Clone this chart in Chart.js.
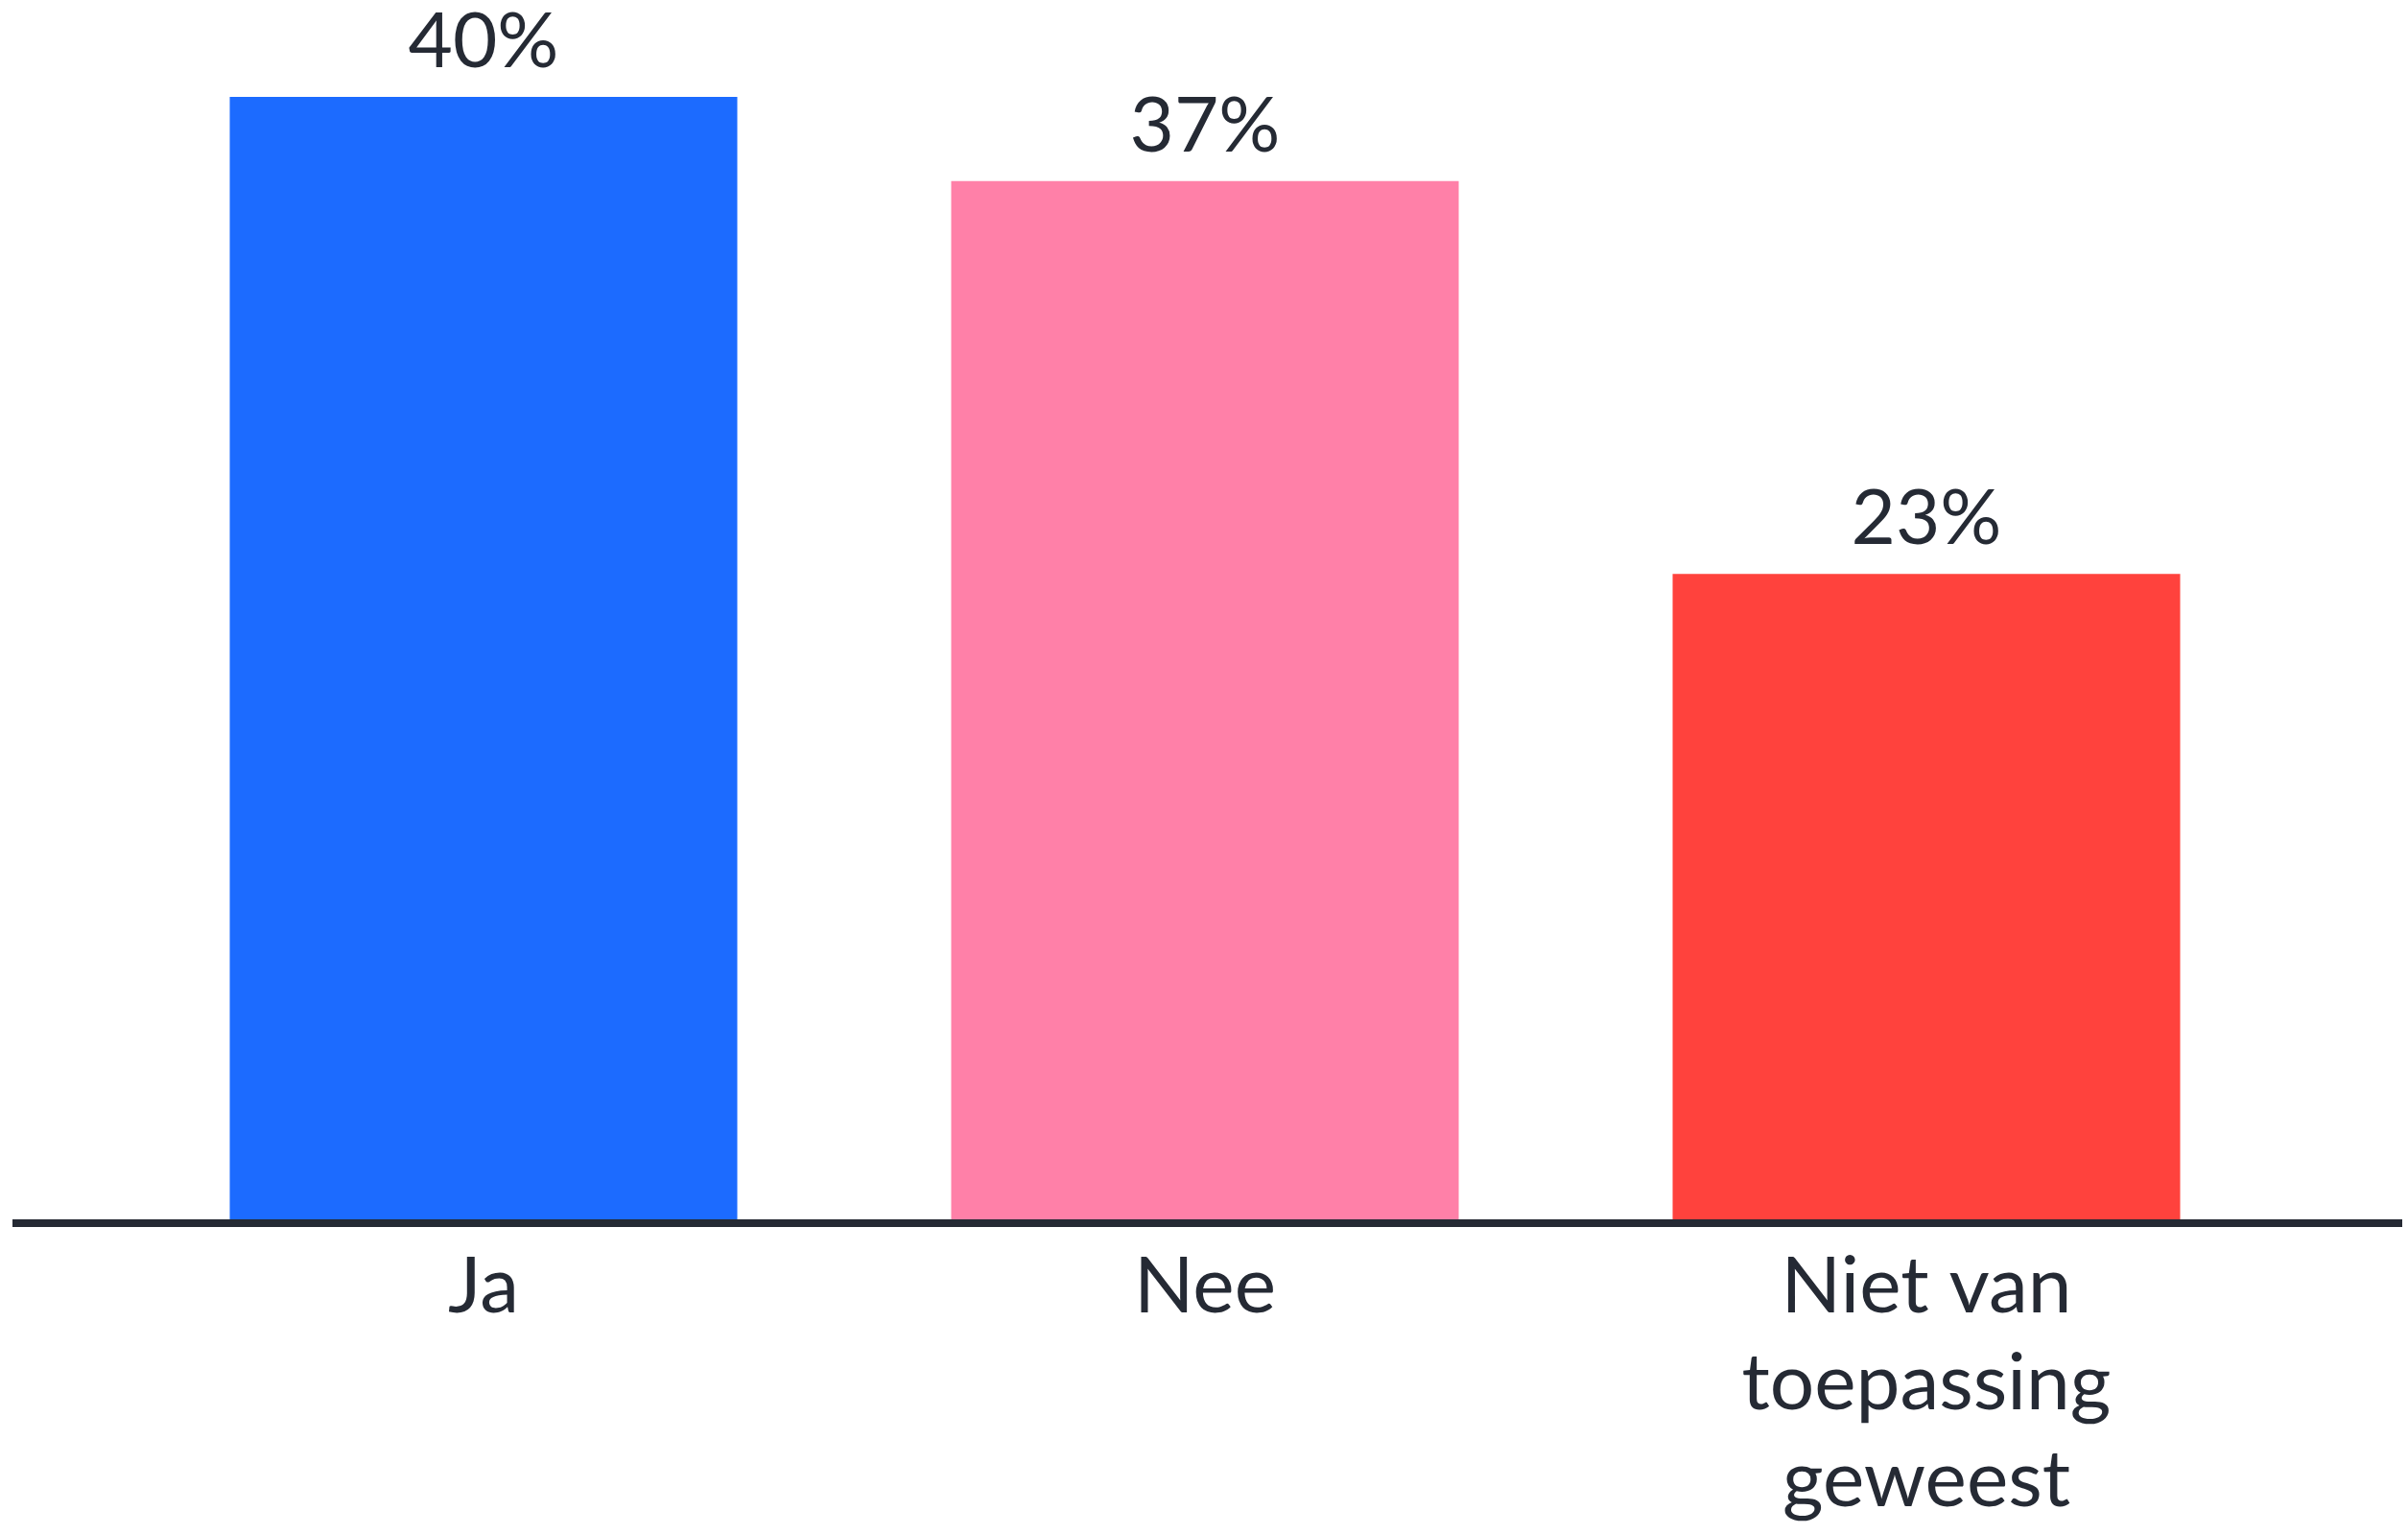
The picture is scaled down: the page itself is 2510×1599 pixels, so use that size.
<!DOCTYPE html>
<html>
<head>
<meta charset="utf-8">
<script src="https://cdn.jsdelivr.net/npm/chart.js@4/dist/chart.umd.min.js"></script>
<style>
html,body{margin:0;padding:0;background:#ffffff;}
canvas{display:block;}
</style>
</head>
<body>
<canvas id="c" width="2510" height="1599"></canvas>
<script>
const categories = [["Ja"], ["Nee"], ["Niet van", "toepassing", "geweest"]];
const values = [40, 37, 23];
const valueLabels = ["40%", "37%", "23%"];
const barColors = ["#1C6BFF", "#FF80A8", "#FF423D"];

const TEXT = "#252A34";
const FONT = "Lato, 'Noto Sans', sans-serif";

const overlay = {
  id: "overlay",
  afterDatasetsDraw(chart) {
    const ctx = chart.ctx;
    const y = chart.scales.y;
    const meta = chart.getDatasetMeta(0);
    ctx.save();
    // baseline
    const base = y.getPixelForValue(0) + 4;
    ctx.strokeStyle = TEXT;
    ctx.lineWidth = 8;
    ctx.beginPath();
    ctx.moveTo(13, base);
    ctx.lineTo(2504, base);
    ctx.stroke();
    // value labels
    ctx.fillStyle = TEXT;
    ctx.font = "400 80px " + FONT;
    ctx.textAlign = "center";
    ctx.textBaseline = "alphabetic";
    meta.data.forEach((bar, i) => {
      ctx.fillText(valueLabels[i], bar.x, bar.y - 31);
    });
    ctx.restore();
  }
};

new Chart(document.getElementById("c"), {
  type: "bar",
  data: {
    labels: categories,
    datasets: [{
      data: values,
      backgroundColor: barColors,
      borderWidth: 0,
      categoryPercentage: 1,
      barPercentage: 0.7035
    }]
  },
  options: {
    responsive: false,
    devicePixelRatio: 1,
    animation: false,
    layout: { padding: { top: 101, left: 128, right: 126, bottom: 0 } },
    plugins: { legend: { display: false }, tooltip: { enabled: false } },
    scales: {
      y: { display: false, min: 0, max: 40 },
      x: {
        grid: { display: false, drawTicks: false },
        border: { display: false },
        ticks: {
          color: TEXT,
          padding: 20,
          maxRotation: 0,
          font: { family: FONT, size: 82, weight: "400", lineHeight: 1.23 }
        },
        afterFit(scale) { scale.height = 1599 - 1271; }
      }
    }
  },
  plugins: [overlay]
});
</script>
</body>
</html>
